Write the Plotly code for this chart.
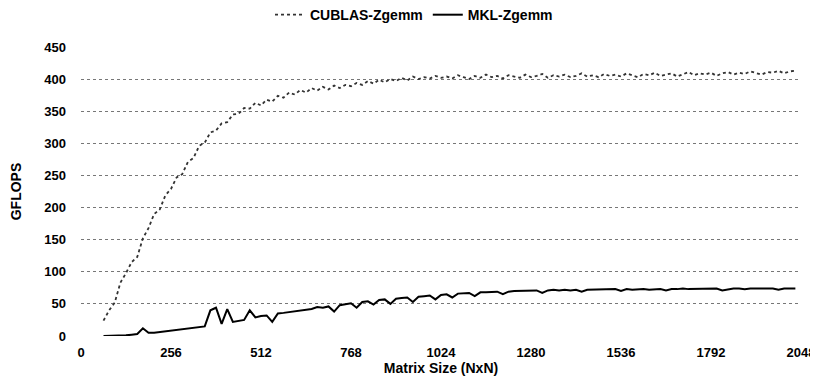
import plotly.graph_objects as go

# Matrix sizes (N) sampled every 16
matrix_sizes = list(range(64, 2049, 16))

cublas_zgemm = [
    24, 40, 52, 83, 98, 115, 123, 152, 168, 190,
    197, 219, 229, 247, 252, 271, 277, 296, 301, 317,
    320, 331, 333, 345, 346, 355, 354, 363, 359, 368,
    365, 374, 371, 379, 376, 383, 379, 386, 382, 388,
    384, 390, 386, 391, 389, 394, 391, 397, 393, 399,
    395, 400, 397, 402, 398, 404, 400, 403, 401, 405,
    402,
    404, 401, 406, 403, 400, 405, 402, 407, 403, 405,
    401, 406, 404, 402, 407, 403, 405, 408, 402, 406,
    404, 407, 403, 405, 409, 404, 406, 403, 408, 405,
    407, 404, 409, 406, 403, 408, 406, 410, 405, 407,
    409, 404, 408, 411, 406, 409, 407, 410, 405, 409,
    411, 407, 410, 408, 412, 409, 407, 411, 410, 413,
    409, 412, 413,
]

mkl_zgemm = [
    0, 0, 1, 1, 1, 2, 3, 12, 5, 5,
    6, 7, 8, 9, 10, 11, 12, 14, 15, 40,
    44, 19, 42, 22, 24, 25, 40, 29, 31, 32,
    22, 35, 36, 37, 38, 40, 41, 42, 45, 44,
    46, 38, 48, 50, 51, 44, 53, 54, 49, 56,
    57, 50, 58, 59, 60, 53, 61, 62, 63, 57,
    64,
    65, 60, 66, 66, 67, 62, 68, 68, 68, 69,
    65, 69, 70, 70, 71, 70, 71, 67, 71, 72,
    71, 72, 71, 72, 69, 72, 72, 73, 72, 72,
    73, 70, 73, 72, 73, 73, 72, 73, 73, 71,
    73, 73, 74, 73, 73, 74, 73, 73, 74, 71,
    73, 74, 74, 73, 74, 74, 73, 74, 74, 72,
    74, 74, 74,
]

x_ticks = [0, 256, 512, 768, 1024, 1280, 1536, 1792, 2048]
y_ticks = [0, 50, 100, 150, 200, 250, 300, 350, 400, 450]

FONT = "Liberation Sans, Arial, sans-serif"

fig = go.Figure()
fig.add_trace(go.Scatter(
    x=matrix_sizes, y=cublas_zgemm, name="CUBLAS-Zgemm", mode="lines",
    line=dict(color="#333333", width=1.8, dash="dot"),
))
fig.add_trace(go.Scatter(
    x=matrix_sizes, y=mkl_zgemm, name="MKL-Zgemm", mode="lines",
    line=dict(color="#000000", width=2),
))

fig.update_layout(
    width=810, height=373,
    margin=dict(l=73, r=17, t=39, b=45, autoexpand=False),
    paper_bgcolor="white", plot_bgcolor="white",
    font=dict(family=FONT, size=13, color="black", weight="bold"),
    showlegend=True,
    legend=dict(orientation="h", x=0.4625, xanchor="center", y=0.981, yanchor="middle",
                yref="container", font=dict(size=14, weight="bold"),
                itemwidth=30, bgcolor="rgba(0,0,0,0)"),
    xaxis=dict(
        range=[0, 2048], tickvals=x_ticks, ticktext=[str(v) for v in x_ticks],
        showgrid=False, zeroline=False, showline=False, ticks="", automargin=False,
        tickfont=dict(size=13, weight="bold"), ticklabelstandoff=7,
        title=dict(text="Matrix Size (NxN)", font=dict(size=14, weight="bold"), standoff=2),
    ),
    yaxis=dict(
        range=[0, 450], tickvals=y_ticks,
        showgrid=True, gridcolor="#777777", griddash="dot", gridwidth=1,
        zeroline=False, showline=False, ticks="", automargin=False,
        tickfont=dict(size=13, weight="bold"), ticklabelstandoff=14,
        title=dict(text="GFLOPS", font=dict(size=14, weight="bold"), standoff=19),
    ),
)

fig.write_html("out.html")
